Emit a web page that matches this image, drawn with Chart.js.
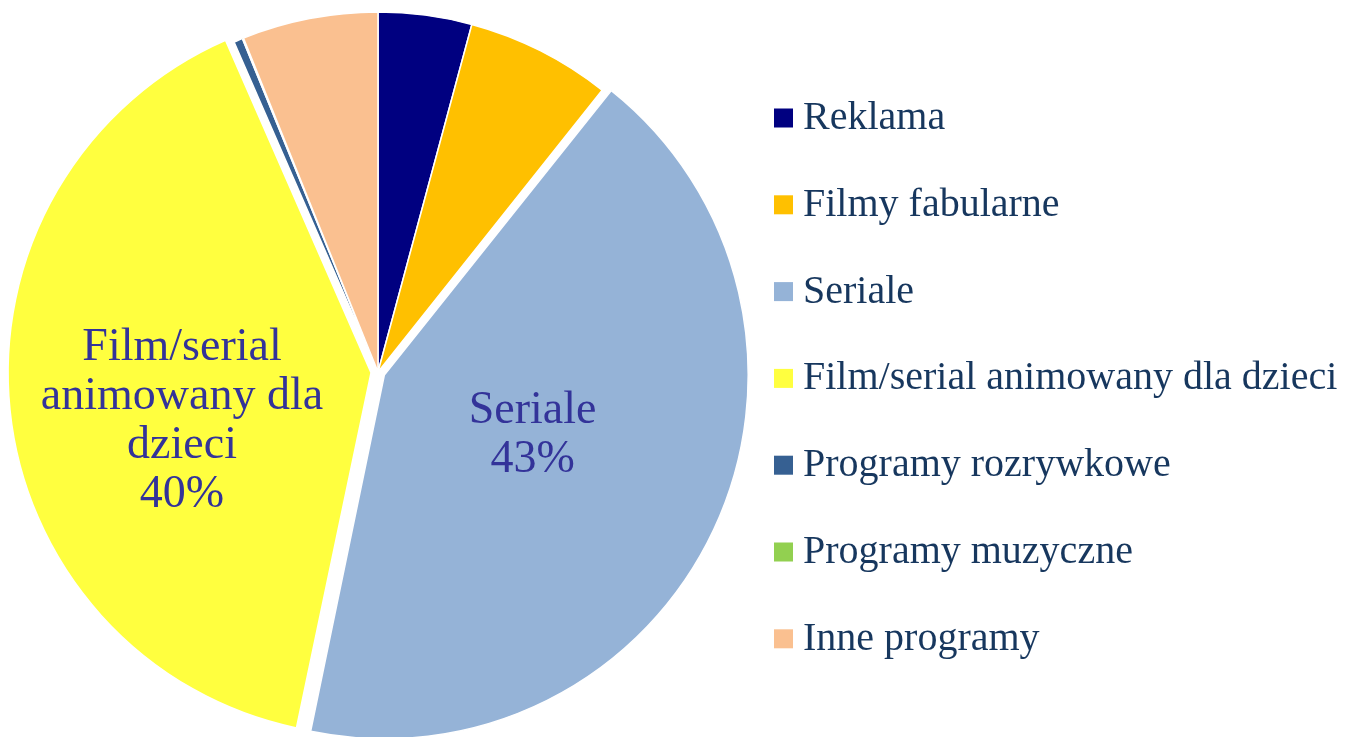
<!DOCTYPE html>
<html>
<head>
<meta charset="utf-8">
<script src="https://cdn.jsdelivr.net/npm/chart.js@4/dist/chart.umd.min.js"></script>
<style>
	html, body { margin: 0; padding: 0; background: #fff; }
	#wrap { width: 1354px; height: 737px; }
</style>
</head>
<body>
<div id="wrap"><canvas id="chart" width="1354" height="737"></canvas></div>
<script>
// categories and shares (percent)
const categories = [
	"Reklama",
	"Filmy fabularne",
	"Seriale",
	"Film/serial animowany dla dzieci",
	"Programy rozrywkowe",
	"Programy muzyczne",
	"Inne programy"
];
const shares = [4.2, 6.5, 42.6, 40.2, 0.4, 0.05, 6.1];
const colors = ["#000080", "#FFC000", "#95B3D7", "#FFFF3F", "#366092", "#92D050", "#FAC090"];
// slices pulled out of the pie
const exploded = [0, 0, 28, 28, 0, 0, 0];
// data labels shown inside the slices: index -> text lines
const sliceLabels = {
	2: ["Seriale", "43%"],
	3: ["Film/serial", "animowany dla", "dzieci", "40%"]
};

const FONT = "'Liberation Serif', 'Times New Roman', serif";

// labels drawn inside the slices, nudged from the arc centre point
const labelNudge = { 2: [-21, -22], 3: [-3, 27] };

const sliceLabelPlugin = {
	id: "sliceLabels",
	afterDatasetsDraw(chart) {
		const ctx = chart.ctx;
		const meta = chart.getDatasetMeta(0);
		ctx.save();
		ctx.fillStyle = "#333399";
		ctx.font = "46px " + FONT;
		ctx.textAlign = "center";
		ctx.textBaseline = "alphabetic";
		const lh = 49;
		for (const i in sliceLabels) {
			const lines = sliceLabels[i];
			const p = meta.data[i].tooltipPosition(true);
			const n = labelNudge[i] || [0, 0];
			const cx = p.x + n[0];
			const cy = p.y + n[1];
			let y = cy - (lines.length - 1) * lh / 2 + 15;
			for (let j = 0; j < lines.length; j++) {
				ctx.fillText(lines[j], cx, y + j * lh);
			}
		}
		ctx.restore();
	}
};

// legend on the right, drawn by hand to get Excel-like spacing
const legendPlugin = {
	id: "sideLegend",
	afterDraw(chart) {
		const ctx = chart.ctx;
		const ds = chart.data.datasets[0];
		ctx.save();
		ctx.font = "40px " + FONT;
		ctx.textBaseline = "alphabetic";
		ctx.textAlign = "left";
		for (let i = 0; i < chart.data.labels.length; i++) {
			const yc = 118 + i * 86.8;
			ctx.fillStyle = ds.backgroundColor[i];
			ctx.fillRect(774, yc - 9.5, 19, 19);
			ctx.fillStyle = "#17375E";
			ctx.fillText(chart.data.labels[i], 803, yc + 11);
		}
		ctx.restore();
	}
};

new Chart(document.getElementById("chart"), {
	type: "pie",
	data: {
		labels: categories,
		datasets: [{
			data: shares,
			backgroundColor: colors,
			borderColor: "#ffffff",
			borderWidth: 1.5,
			offset: exploded,
			hoverOffset: 0,
			radius: 360
		}]
	},
	options: {
		responsive: false,
		animation: false,
		layout: { padding: { left: 0, top: 7, right: 598, bottom: 0 } },
		plugins: {
			legend: { display: false },
			tooltip: { enabled: false }
		}
	},
	plugins: [sliceLabelPlugin, legendPlugin]
});
</script>
</body>
</html>
